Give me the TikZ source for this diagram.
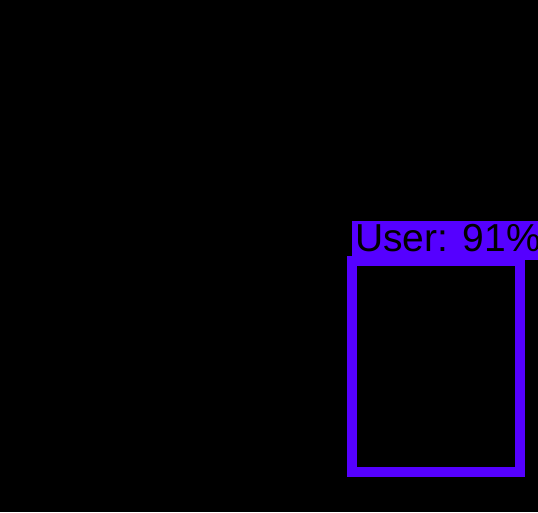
\documentclass[tikz,border=0pt]{standalone}
\usepackage{fontspec}
\setmainfont{Liberation Sans}
\usetikzlibrary{positioning}
\definecolor{detpurple}{HTML}{5500FF}
\begin{document}
\begin{tikzpicture}[x=1pt,y=-1pt]
			\fill[black] (0,0) rectangle (538,512);
			\useasboundingbox (0,0) rectangle (538,512);
			\clip (0,0) rectangle (538,512);
			\tikzstyle{detbox}=[draw=detpurple,line width=10pt,minimum width=168pt,minimum height=211pt,inner sep=0pt]
			\tikzstyle{detlabel}=[fill=detpurple,text=black,font=\fontsize{39}{39}\selectfont,inner xsep=3pt,inner ysep=0pt,minimum height=39pt,anchor=south west]
			\node[detbox] (user) at (436,366.5) {};
			\node[detlabel,text depth=5pt] (userlabel) at ([xshift=5pt,yshift=-4pt]user.north west) {User: 91\%};
		\end{tikzpicture}
\end{document}
